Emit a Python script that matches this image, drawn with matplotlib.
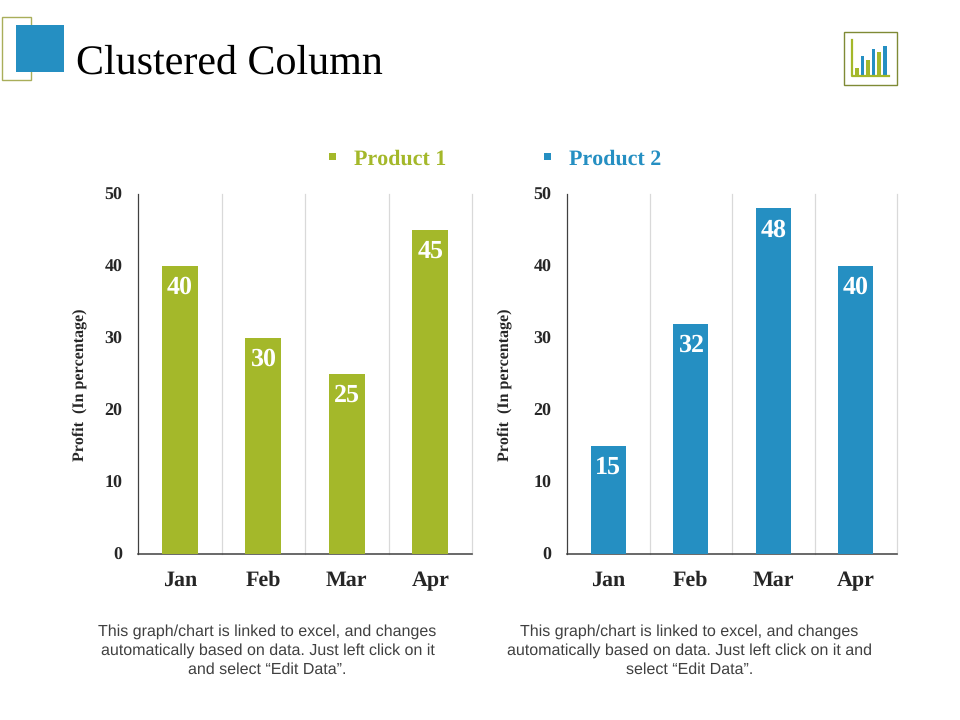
import matplotlib
matplotlib.use("Agg")
import matplotlib.pyplot as plt
from matplotlib.patches import Rectangle

months = ["Jan", "Feb", "Mar", "Apr"]
product_1 = [40, 30, 25, 45]
product_2 = [15, 32, 48, 40]
y_ticks = [0, 10, 20, 30, 40, 50]
icon_values = [8, 20, 16, 27, 24, 30]
note_left = "This graph/chart is linked to excel, and changes\nautomatically based on data. Just left click on it\nand select \u201cEdit Data\u201d."
note_right = "This graph/chart is linked to excel, and changes\nautomatically based on data. Just left click on it and\nselect \u201cEdit Data\u201d."

GREEN = "#A4B82A"
BLUE = "#258FC2"
W, H = 960, 720
SERIF = "Liberation Serif"
SANS = "Liberation Sans"

plt.rcParams["font.family"] = SERIF
plt.rcParams["text.hinting"] = "no_hinting"
plt.rcParams["text.hinting_factor"] = 1
plt.rcParams["text.kerning_factor"] = 6

fig = plt.figure(figsize=(W / 100, H / 100), dpi=100)

# overlay in pixel coordinates for the slide decoration
bg = fig.add_axes([0, 0, 1, 1])
bg.set_xlim(0, W)
bg.set_ylim(H, 0)
bg.axis("off")
bg.add_patch(Rectangle((2, 17), 29, 63, fill=False, ec="#A9AE5A", lw=1))
bg.add_patch(Rectangle((16, 25), 48, 47, fc=BLUE, ec="none"))
bg.text(76, 63, "Clustered Column", fontsize=30.6, color="black", va="center", ha="left")

# icon top right
bg.add_patch(Rectangle((844, 32), 53, 53, fill=False, ec="#7F8A35", lw=1))
bg.plot([852, 852, 889], [40, 76, 76], color=GREEN, lw=1.6)
for i, v in enumerate(icon_values):
    bg.bar(856.8 + i * 5.6, v, width=3.8, bottom=76 - v,
           color=GREEN if i % 2 == 0 else BLUE)

# legend
bg.add_patch(Rectangle((329, 153), 7, 7, fc=GREEN, ec="none"))
bg.text(354, 159, "Product 1", fontsize=15.6, fontweight="bold", color=GREEN, va="center")
bg.add_patch(Rectangle((544, 153), 7, 7, fc=BLUE, ec="none"))
bg.text(569, 159, "Product 2", fontsize=15.6, fontweight="bold", color=BLUE, va="center")

# notes under the charts
bg.text(267.5, 650.5, note_left, fontsize=11.4, family=SANS, color="#404040",
        ha="center", va="center", linespacing=1.34)
bg.text(689.5, 650.5, note_right, fontsize=11.4, family=SANS, color="#404040",
        ha="center", va="center", linespacing=1.34)


def column_chart(left, right, values, color, label_x):
    ax = fig.add_axes([left / W, 1 - 554 / H, (right - left) / W, 360 / H])
    ax.bar(range(len(months)), values, width=0.43, color=color, zorder=3)
    ax.set_xlim(-0.5, 3.5)
    ax.set_ylim(0, 50)
    ax.set_yticks(y_ticks)
    ax.set_xticks(range(len(months)), months)
    for b in [0.5, 1.5, 2.5, 3.5]:
        ax.axvline(b, color="#D9D9D9", lw=0.9, zorder=1, clip_on=False)
    for s in ["top", "right"]:
        ax.spines[s].set_visible(False)
    ax.spines["left"].set_color("#404040")
    ax.spines["left"].set_linewidth(0.9)
    ax.spines["bottom"].set_color("#404040")
    ax.spines["bottom"].set_linewidth(1.1)
    ax.tick_params(axis="both", length=0)
    ax.tick_params(axis="y", pad=11, labelsize=13, labelcolor="#262626")
    ax.tick_params(axis="x", pad=12, labelsize=15.5, labelcolor="#262626")
    for t in ax.get_xticklabels() + ax.get_yticklabels():
        t.set_fontweight("bold")
    for i, v in enumerate(values):
        ax.text(i, v - 3.0, str(v), color="white", fontsize=18.5, fontweight="bold",
                ha="center", va="center", zorder=4)
    fig.text(label_x / W, 1 - 385 / H, "Profit  (In percentage)", rotation=90,
             fontsize=11.6, fontweight="bold", color="#262626", ha="center", va="center")


column_chart(138, 472, product_1, GREEN, 80)
column_chart(567, 897, product_2, BLUE, 505)

fig.savefig("out.png", dpi=100)
